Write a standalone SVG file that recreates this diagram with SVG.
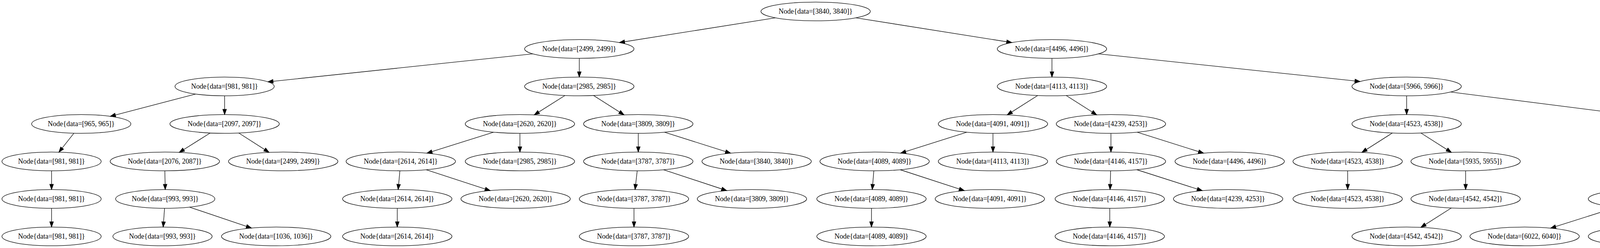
<svg xmlns="http://www.w3.org/2000/svg" width="5259" height="635" viewBox="0 0 5259 635">
<style>
.node ellipse{fill:none;stroke:#000;stroke-width:1.33}
.node text{font-family:"Liberation Serif","Times New Roman",serif;font-size:18px;text-anchor:middle;fill:#000}
#edges line{stroke:#000;stroke-width:1.33;fill:none;marker-end:url(#arr)}
</style>
<defs>
<marker id="arr" markerUnits="userSpaceOnUse" markerWidth="14" markerHeight="10" refX="13.33" refY="5" orient="auto" overflow="visible">
<path d="M0,0.33 L13.33,5 L0,9.67 z" fill="#000" stroke="#000" stroke-width="1.33"/>
</marker>
</defs>
<rect x="0" y="0" width="5259" height="635" fill="#fff"/>
<g id="edges">
<line x1="1985.3" y1="45.6" x2="1585.7" y2="109.0"/>
<line x1="2190.7" y1="45.6" x2="2590.3" y2="109.0"/>
<line x1="1363.8" y1="137.9" x2="685.8" y2="209.6"/>
<line x1="1483" y1="149.33" x2="1483" y2="197.33"/>
<line x1="2693" y1="149.33" x2="2693" y2="197.33"/>
<line x1="2812.2" y1="137.9" x2="3481.8" y2="208.7"/>
<line x1="500.6" y1="240.8" x2="282.4" y2="297.8"/>
<line x1="575" y1="245.33" x2="575" y2="293.33"/>
<line x1="1446.3" y1="244.5" x2="1367.7" y2="294.1"/>
<line x1="1519.5" y1="244.5" x2="1597.5" y2="294.1"/>
<line x1="2656.5" y1="244.5" x2="2578.5" y2="294.1"/>
<line x1="2729.5" y1="244.5" x2="2807.5" y2="294.1"/>
<line x1="3601" y1="245.33" x2="3601" y2="293.33"/>
<line x1="3713.6" y1="235.6" x2="4245.4" y2="303.1"/>
<line x1="189.2" y1="341.1" x2="150.8" y2="389.6"/>
<line x1="538.1" y1="340.5" x2="458.9" y2="390.2"/>
<line x1="611.2" y1="340.5" x2="688.8" y2="390.1"/>
<line x1="1264" y1="338.4" x2="1093" y2="392.2"/>
<line x1="1331" y1="341.33" x2="1331" y2="389.33"/>
<line x1="1634" y1="341.33" x2="1634" y2="389.33"/>
<line x1="1700.6" y1="338.4" x2="1870.4" y2="392.2"/>
<line x1="2475.4" y1="338.4" x2="2305.6" y2="392.2"/>
<line x1="2542" y1="341.33" x2="2542" y2="389.33"/>
<line x1="2844" y1="341.33" x2="2844" y2="389.33"/>
<line x1="2910.8" y1="338.4" x2="3081.2" y2="392.2"/>
<line x1="3564.5" y1="340.5" x2="3486.5" y2="390.1"/>
<line x1="3637.5" y1="340.5" x2="3715.5" y2="390.1"/>
<line x1="4358" y1="341.33" x2="4358" y2="389.33"/>
<line x1="4446" y1="336.0" x2="4723" y2="394.6"/>
<line x1="132" y1="437.33" x2="132" y2="485.33"/>
<line x1="422" y1="437.33" x2="423" y2="485.33"/>
<line x1="1023.75" y1="437.33" x2="1019.25" y2="485.33"/>
<line x1="1091.1" y1="434.6" x2="1254.9" y2="488.1"/>
<line x1="1631.25" y1="437.33" x2="1625.75" y2="485.33"/>
<line x1="1698.6" y1="434.6" x2="1860.4" y2="488.0"/>
<line x1="2237" y1="437.33" x2="2233" y2="485.33"/>
<line x1="2304.3" y1="434.5" x2="2468.7" y2="488.1"/>
<line x1="2843.25" y1="437.33" x2="2841.75" y2="485.33"/>
<line x1="2910.1" y1="434.5" x2="3077.9" y2="488.2"/>
<line x1="3450" y1="437.33" x2="3450" y2="485.33"/>
<line x1="3752" y1="437.33" x2="3752" y2="485.33"/>
<line x1="4321.3" y1="436.5" x2="4242.7" y2="486.2"/>
<line x1="4394" y1="436.5" x2="4471" y2="486.1"/>
<line x1="4811" y1="437.33" x2="4811" y2="485.33"/>
<line x1="4877.6" y1="434.4" x2="5047.4" y2="488.2"/>
<line x1="132" y1="533.33" x2="132" y2="581.33"/>
<line x1="421.25" y1="533.33" x2="417.75" y2="581.33"/>
<line x1="485" y1="530.3" x2="643.7" y2="583.9"/>
<line x1="1017" y1="533.33" x2="1017" y2="581.33"/>
<line x1="1623" y1="533.33" x2="1623" y2="581.33"/>
<line x1="2231" y1="533.33" x2="2231" y2="581.33"/>
<line x1="2841" y1="533.33" x2="2841" y2="581.33"/>
<line x1="3715.5" y1="532.5" x2="3637.5" y2="582.1"/>
<line x1="4139.4" y1="530.4" x2="3969.6" y2="584.2"/>
<line x1="4206" y1="533.33" x2="4206" y2="581.33"/>
<line x1="4507" y1="533.33" x2="4507" y2="581.33"/>
<line x1="4573.8" y1="530.4" x2="4744.2" y2="584.2"/>
<line x1="5114" y1="533.33" x2="5114" y2="581.33"/>
</g>
<g id="n1" class="node"><ellipse cx="2088" cy="29.33" rx="140" ry="24"/><text x="2088" y="34.93">Node{data=[3840, 3840]}</text></g>
<g id="n2" class="node"><ellipse cx="1483" cy="125.33" rx="140" ry="24"/><text x="1483" y="130.93">Node{data=[2499, 2499]}</text></g>
<g id="n3" class="node"><ellipse cx="2693" cy="125.33" rx="140" ry="24"/><text x="2693" y="130.93">Node{data=[4496, 4496]}</text></g>
<g id="n4" class="node"><ellipse cx="575" cy="221.33" rx="127" ry="24"/><text x="575" y="226.93">Node{data=[981, 981]}</text></g>
<g id="n5" class="node"><ellipse cx="1483" cy="221.33" rx="140" ry="24"/><text x="1483" y="226.93">Node{data=[2985, 2985]}</text></g>
<g id="n6" class="node"><ellipse cx="2693" cy="221.33" rx="140" ry="24"/><text x="2693" y="226.93">Node{data=[4113, 4113]}</text></g>
<g id="n7" class="node"><ellipse cx="3601" cy="221.33" rx="140" ry="24"/><text x="3601" y="226.93">Node{data=[5966, 5966]}</text></g>
<g id="n8" class="node"><ellipse cx="208" cy="317.33" rx="127" ry="24"/><text x="208" y="322.93">Node{data=[965, 965]}</text></g>
<g id="n9" class="node"><ellipse cx="575" cy="317.33" rx="140" ry="24"/><text x="575" y="322.93">Node{data=[2097, 2097]}</text></g>
<g id="n10" class="node"><ellipse cx="1331" cy="317.33" rx="140" ry="24"/><text x="1331" y="322.93">Node{data=[2620, 2620]}</text></g>
<g id="n11" class="node"><ellipse cx="1634" cy="317.33" rx="140" ry="24"/><text x="1634" y="322.93">Node{data=[3809, 3809]}</text></g>
<g id="n12" class="node"><ellipse cx="2542" cy="317.33" rx="140" ry="24"/><text x="2542" y="322.93">Node{data=[4091, 4091]}</text></g>
<g id="n13" class="node"><ellipse cx="2844" cy="317.33" rx="140" ry="24"/><text x="2844" y="322.93">Node{data=[4239, 4253]}</text></g>
<g id="n14" class="node"><ellipse cx="3601" cy="317.33" rx="140" ry="24"/><text x="3601" y="322.93">Node{data=[4523, 4538]}</text></g>
<g id="n15" class="node"><ellipse cx="4358" cy="317.33" rx="140" ry="24"/><text x="4358" y="322.93">Node{data=[7574, 7574]}</text></g>
<g id="n16" class="node"><ellipse cx="132" cy="413.33" rx="127" ry="24"/><text x="132" y="418.93">Node{data=[981, 981]}</text></g>
<g id="n17" class="node"><ellipse cx="422" cy="413.33" rx="140" ry="24"/><text x="422" y="418.93">Node{data=[2076, 2087]}</text></g>
<g id="n18" class="node"><ellipse cx="725" cy="413.33" rx="140" ry="24"/><text x="725" y="418.93">Node{data=[2499, 2499]}</text></g>
<g id="n19" class="node"><ellipse cx="1026" cy="413.33" rx="140" ry="24"/><text x="1026" y="418.93">Node{data=[2614, 2614]}</text></g>
<g id="n20" class="node"><ellipse cx="1331" cy="413.33" rx="140" ry="24"/><text x="1331" y="418.93">Node{data=[2985, 2985]}</text></g>
<g id="n21" class="node"><ellipse cx="1634" cy="413.33" rx="140" ry="24"/><text x="1634" y="418.93">Node{data=[3787, 3787]}</text></g>
<g id="n22" class="node"><ellipse cx="1937" cy="413.33" rx="140" ry="24"/><text x="1937" y="418.93">Node{data=[3840, 3840]}</text></g>
<g id="n23" class="node"><ellipse cx="2239" cy="413.33" rx="140" ry="24"/><text x="2239" y="418.93">Node{data=[4089, 4089]}</text></g>
<g id="n24" class="node"><ellipse cx="2542" cy="413.33" rx="140" ry="24"/><text x="2542" y="418.93">Node{data=[4113, 4113]}</text></g>
<g id="n25" class="node"><ellipse cx="2844" cy="413.33" rx="140" ry="24"/><text x="2844" y="418.93">Node{data=[4146, 4157]}</text></g>
<g id="n26" class="node"><ellipse cx="3148" cy="413.33" rx="140" ry="24"/><text x="3148" y="418.93">Node{data=[4496, 4496]}</text></g>
<g id="n27" class="node"><ellipse cx="3450" cy="413.33" rx="140" ry="24"/><text x="3450" y="418.93">Node{data=[4523, 4538]}</text></g>
<g id="n28" class="node"><ellipse cx="3752" cy="413.33" rx="140" ry="24"/><text x="3752" y="418.93">Node{data=[5935, 5955]}</text></g>
<g id="n29" class="node"><ellipse cx="4358" cy="413.33" rx="140" ry="24"/><text x="4358" y="418.93">Node{data=[6710, 6710]}</text></g>
<g id="n30" class="node"><ellipse cx="4811" cy="413.33" rx="140" ry="24"/><text x="4811" y="418.93">Node{data=[8105, 8105]}</text></g>
<g id="n31" class="node"><ellipse cx="132" cy="509.33" rx="127" ry="24"/><text x="132" y="514.93">Node{data=[981, 981]}</text></g>
<g id="n32" class="node"><ellipse cx="423" cy="509.33" rx="127" ry="24"/><text x="423" y="514.93">Node{data=[993, 993]}</text></g>
<g id="n33" class="node"><ellipse cx="1017" cy="509.33" rx="140" ry="24"/><text x="1017" y="514.93">Node{data=[2614, 2614]}</text></g>
<g id="n34" class="node"><ellipse cx="1320" cy="509.33" rx="140" ry="24"/><text x="1320" y="514.93">Node{data=[2620, 2620]}</text></g>
<g id="n35" class="node"><ellipse cx="1623" cy="509.33" rx="140" ry="24"/><text x="1623" y="514.93">Node{data=[3787, 3787]}</text></g>
<g id="n36" class="node"><ellipse cx="1925" cy="509.33" rx="140" ry="24"/><text x="1925" y="514.93">Node{data=[3809, 3809]}</text></g>
<g id="n37" class="node"><ellipse cx="2231" cy="509.33" rx="140" ry="24"/><text x="2231" y="514.93">Node{data=[4089, 4089]}</text></g>
<g id="n38" class="node"><ellipse cx="2534" cy="509.33" rx="140" ry="24"/><text x="2534" y="514.93">Node{data=[4091, 4091]}</text></g>
<g id="n39" class="node"><ellipse cx="2841" cy="509.33" rx="140" ry="24"/><text x="2841" y="514.93">Node{data=[4146, 4157]}</text></g>
<g id="n40" class="node"><ellipse cx="3144" cy="509.33" rx="140" ry="24"/><text x="3144" y="514.93">Node{data=[4239, 4253]}</text></g>
<g id="n41" class="node"><ellipse cx="3450" cy="509.33" rx="140" ry="24"/><text x="3450" y="514.93">Node{data=[4523, 4538]}</text></g>
<g id="n42" class="node"><ellipse cx="3752" cy="509.33" rx="140" ry="24"/><text x="3752" y="514.93">Node{data=[4542, 4542]}</text></g>
<g id="n43" class="node"><ellipse cx="4206" cy="509.33" rx="140" ry="24"/><text x="4206" y="514.93">Node{data=[6049, 6049]}</text></g>
<g id="n44" class="node"><ellipse cx="4507" cy="509.33" rx="140" ry="24"/><text x="4507" y="514.93">Node{data=[7394, 7394]}</text></g>
<g id="n45" class="node"><ellipse cx="4811" cy="509.33" rx="140" ry="24"/><text x="4811" y="514.93">Node{data=[7963, 7963]}</text></g>
<g id="n46" class="node"><ellipse cx="5114" cy="509.33" rx="140" ry="24"/><text x="5114" y="514.93">Node{data=[8205, 8205]}</text></g>
<g id="n47" class="node"><ellipse cx="132" cy="605.33" rx="127" ry="24"/><text x="132" y="610.93">Node{data=[981, 981]}</text></g>
<g id="n48" class="node"><ellipse cx="416" cy="605.33" rx="127" ry="24"/><text x="416" y="610.93">Node{data=[993, 993]}</text></g>
<g id="n49" class="node"><ellipse cx="707" cy="605.33" rx="140" ry="24"/><text x="707" y="610.93">Node{data=[1036, 1036]}</text></g>
<g id="n50" class="node"><ellipse cx="1017" cy="605.33" rx="140" ry="24"/><text x="1017" y="610.93">Node{data=[2614, 2614]}</text></g>
<g id="n51" class="node"><ellipse cx="1623" cy="605.33" rx="140" ry="24"/><text x="1623" y="610.93">Node{data=[3787, 3787]}</text></g>
<g id="n52" class="node"><ellipse cx="2231" cy="605.33" rx="140" ry="24"/><text x="2231" y="610.93">Node{data=[4089, 4089]}</text></g>
<g id="n53" class="node"><ellipse cx="2841" cy="605.33" rx="140" ry="24"/><text x="2841" y="610.93">Node{data=[4146, 4157]}</text></g>
<g id="n54" class="node"><ellipse cx="3601" cy="605.33" rx="140" ry="24"/><text x="3601" y="610.93">Node{data=[4542, 4542]}</text></g>
<g id="n55" class="node"><ellipse cx="3903" cy="605.33" rx="140" ry="24"/><text x="3903" y="610.93">Node{data=[6022, 6040]}</text></g>
<g id="n56" class="node"><ellipse cx="4206" cy="605.33" rx="140" ry="24"/><text x="4206" y="610.93">Node{data=[6694, 6694]}</text></g>
<g id="n57" class="node"><ellipse cx="4507" cy="605.33" rx="140" ry="24"/><text x="4507" y="610.93">Node{data=[7370, 7370]}</text></g>
<g id="n58" class="node"><ellipse cx="4811" cy="605.33" rx="140" ry="24"/><text x="4811" y="610.93">Node{data=[7401, 7401]}</text></g>
<g id="n59" class="node"><ellipse cx="5114" cy="605.33" rx="140" ry="24"/><text x="5114" y="610.93">Node{data=[8277, 8277]}</text></g>
</svg>
